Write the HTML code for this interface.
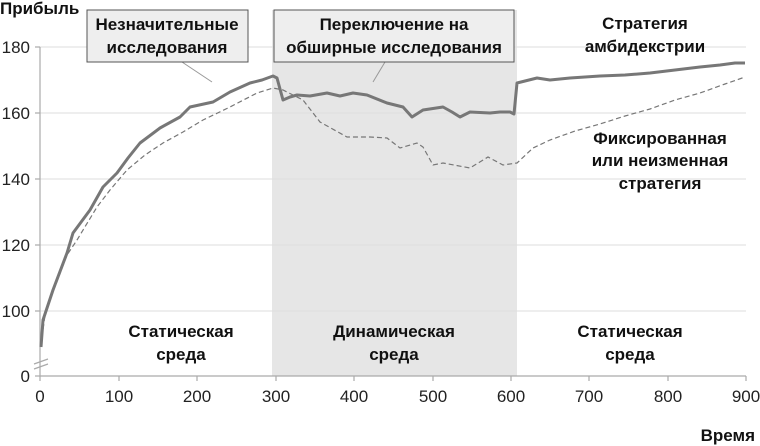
<!DOCTYPE html>
<html><head><meta charset="utf-8"><style>
body{margin:0;background:#fff}
svg{display:block;font-family:"Liberation Sans",sans-serif}
.b{font-weight:bold;font-size:17px;fill:#111}
.t{font-size:17px;fill:#222}
</style></head><body>
<svg width="760" height="446" viewBox="0 0 760 446">
<rect x="272" y="10" width="245" height="366" fill="#e6e6e6"/>
<g stroke="#ddd" stroke-width="1">
<line x1="40" y1="47" x2="746" y2="47"/><line x1="40" y1="113" x2="746" y2="113"/>
<line x1="40" y1="179" x2="746" y2="179"/><line x1="40" y1="245" x2="746" y2="245"/>
<line x1="40" y1="311" x2="746" y2="311"/>
</g>
<g stroke="#aaa" stroke-width="1.2">
<line x1="40" y1="47" x2="40" y2="376"/><line x1="40" y1="376" x2="746" y2="376"/>
<line x1="35" y1="47" x2="40" y2="47"/><line x1="35" y1="113" x2="40" y2="113"/><line x1="35" y1="179" x2="40" y2="179"/><line x1="35" y1="245" x2="40" y2="245"/><line x1="35" y1="311" x2="40" y2="311"/><line x1="35" y1="376" x2="40" y2="376"/>
<line x1="40" y1="376" x2="40" y2="381"/><line x1="119" y1="376" x2="119" y2="381"/><line x1="197" y1="376" x2="197" y2="381"/><line x1="276" y1="376" x2="276" y2="381"/><line x1="354" y1="376" x2="354" y2="381"/><line x1="433" y1="376" x2="433" y2="381"/><line x1="511" y1="376" x2="511" y2="381"/><line x1="589" y1="376" x2="589" y2="381"/><line x1="668" y1="376" x2="668" y2="381"/><line x1="746" y1="376" x2="746" y2="381"/>
<line x1="34" y1="364" x2="48" y2="359"/><line x1="34" y1="369" x2="48" y2="364"/>
</g>
<g class="t" text-anchor="end">
<text x="30" y="53">180</text><text x="30" y="119">160</text><text x="30" y="185">140</text><text x="30" y="251">120</text><text x="30" y="317">100</text><text x="30" y="382">0</text>
</g>
<g class="t" text-anchor="middle">
<text x="40" y="402">0</text><text x="119" y="402">100</text><text x="197" y="402">200</text><text x="276" y="402">300</text><text x="354" y="402">400</text><text x="433" y="402">500</text><text x="511" y="402">600</text><text x="589" y="402">700</text><text x="668" y="402">800</text><text x="746" y="402">900</text>
</g>
<polyline fill="none" stroke="#777" stroke-width="1.2" stroke-dasharray="5,3" points="41,345 45,315 53,292 67,255 77,240 97,207 110,190 127,170 145,155 163,143 183,132 203,120 230,107 257,93 273,88 283,90 303,100 320,122 347,137 370,137 387,138 400,148 417,143 423,147 433,165 443,163 470,168 488,157 503,165 517,163 533,148 550,140 575,131 600,124 625,116 650,109 675,100 700,93 725,84 745,77"/>
<polyline fill="none" stroke="#777" stroke-width="3" stroke-linejoin="round" points="41,347 43,320 53,290 67,253 73,233 90,210 103,187 117,173 128,158 140,143 160,128 180,117 190,107 213,102 230,92 250,83 262,80 273,76 277,78 283,100 290,97 297,95 310,96 327,93 340,96 353,93 367,95 387,103 403,107 412,117 423,110 443,107 452,112 460,117 470,112 490,113 500,112 510,112 514,114 517,83 537,78 550,80 570,78 600,76 625,75 650,73 675,70 700,67 720,65 735,63 745,63"/>
<line x1="182" y1="62" x2="212" y2="82" stroke="#999"/>
<line x1="385" y1="62" x2="373" y2="82" stroke="#999"/>
<rect x="87" y="10" width="161" height="52" fill="#eee" stroke="#555"/>
<rect x="274" y="10" width="240" height="52" fill="#eee" stroke="#555"/>
<g class="b" text-anchor="middle">
<text x="167" y="30">Незначительные</text><text x="167" y="53">исследования</text>
<text x="394" y="30">Переключение на</text><text x="394" y="53">обширные исследования</text>
<text x="645" y="29">Стратегия</text><text x="645" y="52">амбидекстрии</text>
<text x="660" y="144">Фиксированная</text><text x="660" y="166">или неизменная</text><text x="660" y="189">стратегия</text>
<text x="181" y="337">Статическая</text><text x="181" y="360">среда</text>
<text x="394" y="337">Динамическая</text><text x="394" y="360">среда</text>
<text x="630" y="337">Статическая</text><text x="630" y="360">среда</text>
</g>
<text class="b" x="0" y="14">Прибыль</text>
<text class="b" x="755" y="441" text-anchor="end">Время</text>
</svg>
</body></html>
